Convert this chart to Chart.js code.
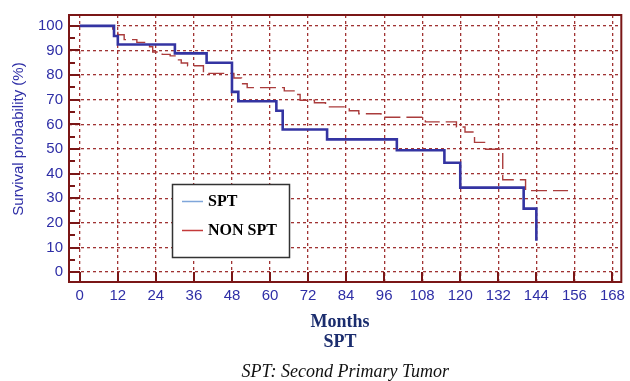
<!DOCTYPE html>
<html>
<head>
<meta charset="utf-8">
<script src="https://cdn.jsdelivr.net/npm/chart.js@4.4.0/dist/chart.umd.min.js"></script>
<style>
  html, body { margin: 0; padding: 0; background: #fff; }
  #wrap { width: 630px; height: 381px; }
</style>
</head>
<body>
<div id="wrap"><canvas id="km"></canvas></div>
<script>
// Kaplan-Meier steps: month of each drop and the survival after it
const sptMonths = [0, 10.8, 12, 30, 40, 48, 50, 62, 64, 78, 100, 115, 120, 140, 144];
const sptSurvival = [100, 95.9, 92.4, 88.8, 85.0, 73.2, 69.4, 65.5, 57.9, 53.9, 49.5, 44.4, 34.3, 25.8, 12.7];

const nonSptMonths = [0, 10.4, 12, 14, 18, 22, 23, 26, 28.5, 30.5, 32, 34, 39, 48.6, 51, 52.8, 64.5, 68, 69.5, 74, 77.5, 85, 88, 95, 109, 118.8, 121.5, 124.5, 128, 133.4, 140.6, 154];
const nonSptSurvival = [100, 98.7, 96.4, 94.4, 93.3, 91.5, 89.4, 88.4, 87.8, 86.2, 84.9, 83.8, 80.7, 78.8, 76.5, 74.9, 73.6, 72.1, 69.8, 68.8, 67.1, 65.5, 64.3, 62.9, 61.0, 58.9, 56.9, 52.7, 49.9, 37.5, 33.1, 33.1];

const xTicks = [0, 12, 24, 36, 48, 60, 72, 84, 96, 108, 120, 132, 144, 156, 168];
const yTicks = [0, 10, 20, 30, 40, 50, 60, 70, 80, 90, 100];

const frameColor = '#7a1616';
const gridColor = 'rgba(155, 40, 40, 0.95)';
const tickColor = '#2e2ea6';
const sansFont = '"Liberation Sans", Arial, sans-serif';
const serifFont = '"Liberation Serif", "Times New Roman", serif';

const toPoints = (xs, ys) => xs.map((x, i) => ({ x: x, y: ys[i] }));

// frame, inward tick marks, axis titles and the boxed legend
const decorations = {
    id: 'decorations',
    beforeDatasetsDraw(chart) {
        const { ctx, chartArea } = chart;
        const xs = chart.scales.x;
        const ys = chart.scales.y;
        ctx.save();
        ctx.strokeStyle = frameColor;
        ctx.lineWidth = 2;
        ctx.strokeRect(chartArea.left, chartArea.top, chartArea.right - chartArea.left, chartArea.bottom - chartArea.top);
        ctx.beginPath();
        for (let v = 0; v <= 100; v += 5) {
            const py = Math.round(ys.getPixelForValue(v));
            const len = v % 10 === 0 ? 11 : 6;
            ctx.moveTo(chartArea.left, py);
            ctx.lineTo(chartArea.left + len, py);
        }
        xTicks.forEach((v) => {
            const px = Math.round(xs.getPixelForValue(v));
            ctx.moveTo(px, chartArea.bottom);
            ctx.lineTo(px, chartArea.bottom - 10);
        });
        ctx.stroke();
        ctx.restore();
    },
    afterDraw(chart) {
        const ctx = chart.ctx;
        ctx.save();

        // axis titles
        ctx.textAlign = 'center';
        ctx.textBaseline = 'middle';
        ctx.fillStyle = '#1b2d6e';
        ctx.font = 'bold 18px ' + serifFont;
        ctx.fillText('Months', 340, 322);
        ctx.fillText('SPT', 340, 342);

        ctx.save();
        ctx.translate(19, 139);
        ctx.rotate(-Math.PI / 2);
        ctx.fillStyle = tickColor;
        ctx.font = '15px ' + sansFont;
        ctx.fillText('Survival probability (%)', 0, 0);
        ctx.restore();

        // legend
        ctx.fillStyle = '#fff';
        ctx.fillRect(172, 184, 118, 74);
        ctx.strokeStyle = '#333';
        ctx.lineWidth = 1.5;
        ctx.strokeRect(172.5, 184.5, 117, 73);

        ctx.lineWidth = 1.5;
        ctx.strokeStyle = '#7fa6da';
        ctx.beginPath();
        ctx.moveTo(182, 201.5);
        ctx.lineTo(203, 201.5);
        ctx.stroke();
        ctx.strokeStyle = '#c43a3a';
        ctx.beginPath();
        ctx.moveTo(182, 230.5);
        ctx.lineTo(203, 230.5);
        ctx.stroke();

        ctx.fillStyle = '#000';
        ctx.font = 'bold 16px ' + serifFont;
        ctx.textAlign = 'left';
        ctx.fillText('SPT', 208, 202);
        ctx.fillText('NON SPT', 208, 231);
        ctx.restore();
    }
};

new Chart(document.getElementById('km'), {
    type: 'line',
    data: {
        datasets: [
            {
                label: 'SPT',
                data: toPoints(sptMonths, sptSurvival),
                stepped: true,
                borderColor: '#3434a2',
                borderWidth: 2.6,
                pointRadius: 0,
                fill: false
            },
            {
                label: 'NON SPT',
                data: toPoints(nonSptMonths, nonSptSurvival),
                stepped: true,
                borderColor: '#aa3c3c',
                borderWidth: 1.4,
                borderDash: [16, 6],
                pointRadius: 0,
                fill: false
            }
        ]
    },
    options: {
        responsive: true,
        maintainAspectRatio: false,
        animation: false,
        devicePixelRatio: 1,
        layout: { padding: { top: 10, right: 3, left: 0, bottom: 0 } },
        plugins: {
            legend: { display: false },
            tooltip: { enabled: false },
            title: {
                display: true,
                position: 'bottom',
                fullSize: false,
                text: 'SPT: Second Primary Tumor',
                color: '#111',
                font: { family: serifFont, size: 18, style: 'italic', weight: 'normal', lineHeight: 1 },
                padding: { top: 11, bottom: 0 }
            }
        },
        scales: {
            x: {
                type: 'linear',
                min: -3.4,
                max: 170.8,
                afterBuildTicks: (scale) => { scale.ticks = xTicks.map((v) => ({ value: v })); },
                afterFit: (scale) => { scale.height = 70; },
                grid: { color: gridColor, lineWidth: 1.3, drawTicks: false },
                border: { display: false, dash: [3, 3] },
                ticks: {
                    autoSkip: false,
                    maxRotation: 0,
                    padding: 5,
                    color: tickColor,
                    font: { family: sansFont, size: 15 }
                }
            },
            y: {
                type: 'linear',
                min: -4,
                max: 104.4,
                afterBuildTicks: (scale) => { scale.ticks = yTicks.map((v) => ({ value: v })); },
                afterFit: (scale) => { scale.width = 69; },
                grid: { color: gridColor, lineWidth: 1.3, drawTicks: false },
                border: { display: false, dash: [3, 3] },
                ticks: {
                    padding: 6,
                    color: tickColor,
                    font: { family: sansFont, size: 15 }
                }
            }
        }
    },
    plugins: [decorations]
});
</script>
</body>
</html>
